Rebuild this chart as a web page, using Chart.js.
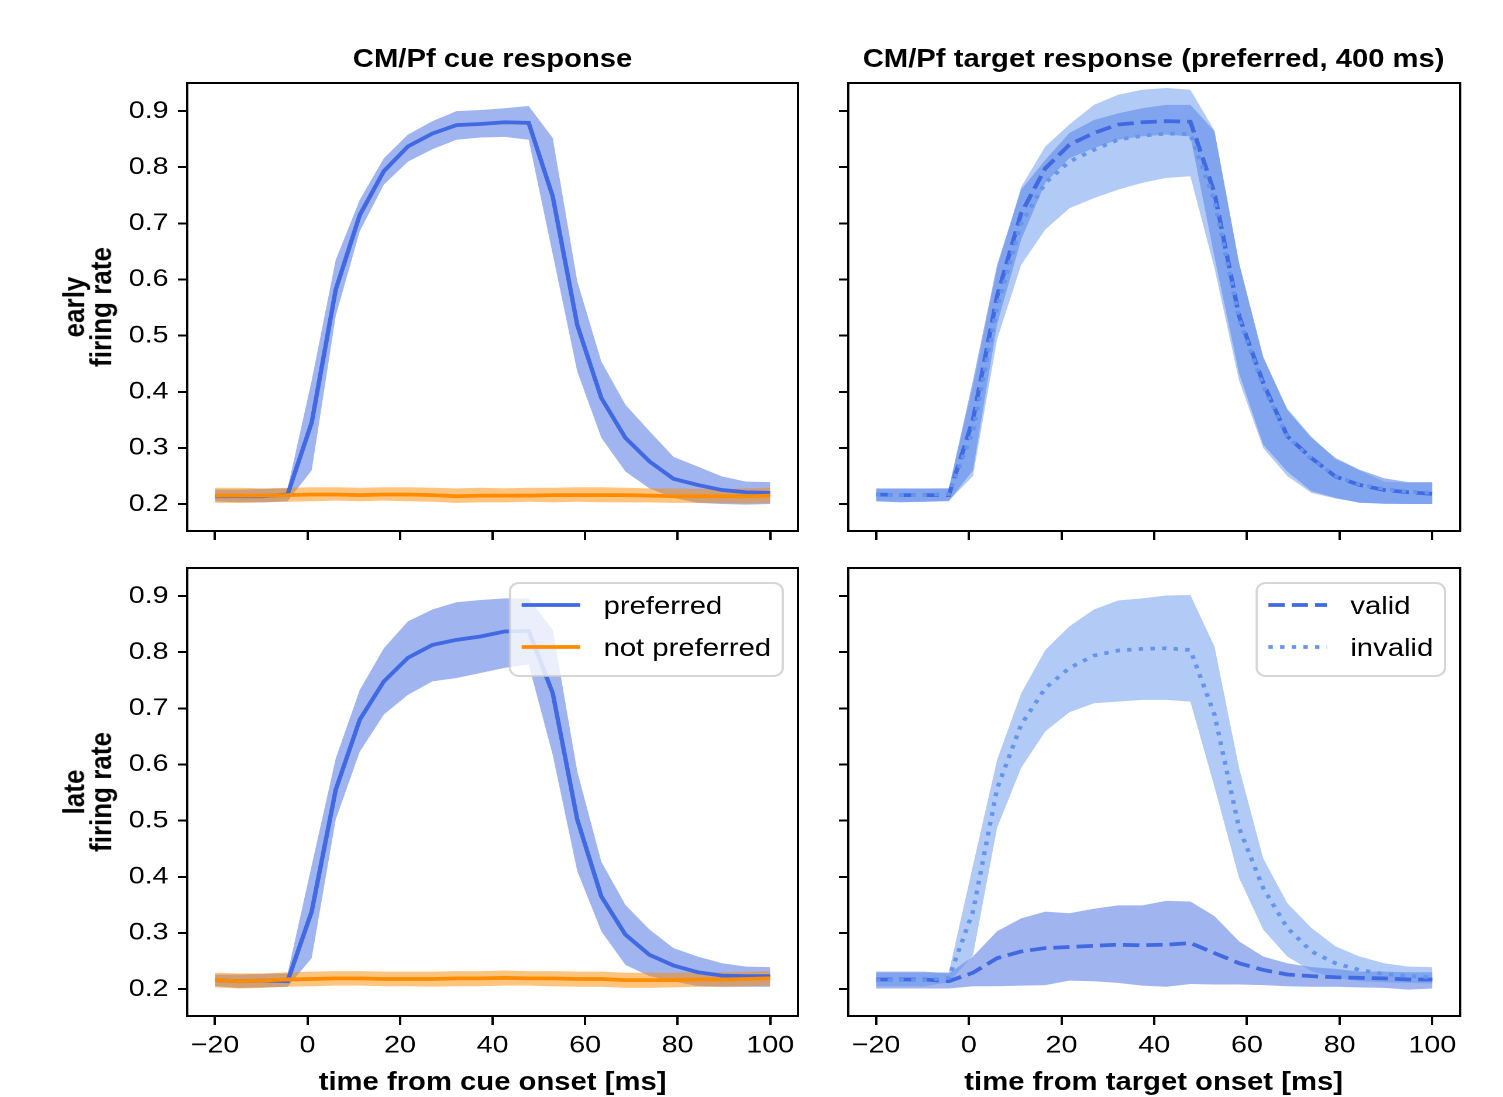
<!DOCTYPE html>
<html>
<head>
<meta charset="utf-8">
<script src="https://cdn.jsdelivr.net/npm/chart.js@4.4.1/dist/chart.umd.min.js"></script>
<style>
  html, body { margin: 0; padding: 0; background: #fff; overflow: hidden; }
  #fig { position: absolute; left: 0; top: 0; width: 1285px; height: 1097px;
         transform: scaleX(1.17); transform-origin: 0 0;
         font-family: "Liberation Sans", Arial, sans-serif; color: #000; }
  #fig canvas { position: absolute; }
  .lbl { position: absolute; font-size: 25px; line-height: 25px; font-weight: bold;
         white-space: nowrap; transform: translateX(-50%); }
  .ylbl { position: absolute; font-size: 26px; line-height: 23px; font-weight: bold;
          text-align: center; white-space: nowrap; transform: translate(-50%, -50%) rotate(-90deg); }
</style>
</head>
<body>
<div id="fig">
  <canvas id="cueEarly"></canvas>
  <canvas id="targetEarly"></canvas>
  <canvas id="cueLate"></canvas>
  <canvas id="targetLate"></canvas>

  <div class="lbl" style="left:421px; top:46px">CM/Pf cue response</div>
  <div class="lbl" style="left:986px; top:46px">CM/Pf target response (preferred, 400 ms)</div>
  <div class="ylbl" style="left:75px; top:307px">early<br>firing rate</div>
  <div class="ylbl" style="left:75px; top:792px">late<br>firing rate</div>
  <div class="lbl" style="left:421px; top:1069px">time from cue onset [ms]</div>
  <div class="lbl" style="left:986px; top:1069px">time from target onset [ms]</div>
</div>

<script>
// time axis (ms) and ticks
const time = [-20, -14.8, -9.6, -4.3, 0.9, 6.1, 11.3, 16.5, 21.7, 27.0, 32.2, 37.4,
              42.6, 47.8, 53.0, 58.3, 63.5, 68.7, 73.9, 79.1, 84.3, 89.6, 94.8, 100]
const xTicks = [-20, 0, 20, 40, 60, 80, 100]
const yTicks = [0.2, 0.3, 0.4, 0.5, 0.6, 0.7, 0.8, 0.9]

// cue response, early
const cueEarlyPref   = [0.214, 0.214, 0.214, 0.217, 0.345, 0.582, 0.715, 0.793, 0.837, 0.860, 0.875, 0.877, 0.880, 0.879, 0.748, 0.519, 0.389, 0.318, 0.276, 0.245, 0.234, 0.225, 0.221, 0.220]
const cueEarlyPrefLo = [0.205, 0.203, 0.203, 0.205, 0.260, 0.535, 0.686, 0.769, 0.810, 0.832, 0.849, 0.853, 0.854, 0.849, 0.645, 0.436, 0.318, 0.258, 0.228, 0.211, 0.202, 0.200, 0.199, 0.200]
const cueEarlyPrefHi = [0.226, 0.226, 0.227, 0.228, 0.420, 0.635, 0.742, 0.816, 0.858, 0.882, 0.900, 0.902, 0.905, 0.909, 0.852, 0.597, 0.454, 0.377, 0.330, 0.284, 0.267, 0.249, 0.240, 0.239]
const cueEarlyNon    = [0.215, 0.215, 0.215, 0.216, 0.217, 0.217, 0.216, 0.217, 0.217, 0.216, 0.214, 0.215, 0.215, 0.215, 0.216, 0.216, 0.216, 0.216, 0.215, 0.214, 0.214, 0.214, 0.214, 0.215]
const cueEarlyNonLo  = [0.202, 0.202, 0.203, 0.204, 0.205, 0.206, 0.205, 0.206, 0.205, 0.204, 0.202, 0.203, 0.203, 0.204, 0.203, 0.204, 0.203, 0.203, 0.203, 0.202, 0.202, 0.202, 0.201, 0.202]
const cueEarlyNonHi  = [0.229, 0.229, 0.228, 0.229, 0.230, 0.230, 0.229, 0.230, 0.230, 0.229, 0.228, 0.229, 0.228, 0.229, 0.229, 0.230, 0.230, 0.229, 0.228, 0.228, 0.227, 0.227, 0.228, 0.229]

// cue response, late
const cueLatePref   = [0.216, 0.214, 0.215, 0.214, 0.338, 0.555, 0.680, 0.748, 0.790, 0.813, 0.822, 0.828, 0.837, 0.838, 0.727, 0.502, 0.365, 0.297, 0.261, 0.242, 0.230, 0.224, 0.223, 0.223]
const cueLatePrefLo = [0.205, 0.202, 0.203, 0.204, 0.255, 0.502, 0.623, 0.689, 0.724, 0.748, 0.754, 0.763, 0.772, 0.778, 0.617, 0.410, 0.303, 0.243, 0.223, 0.214, 0.205, 0.204, 0.204, 0.204]
const cueLatePrefHi = [0.226, 0.226, 0.227, 0.228, 0.420, 0.611, 0.733, 0.807, 0.855, 0.876, 0.889, 0.893, 0.896, 0.896, 0.840, 0.588, 0.427, 0.350, 0.306, 0.273, 0.258, 0.246, 0.240, 0.239]
const cueLateNon    = [0.216, 0.214, 0.215, 0.217, 0.218, 0.219, 0.219, 0.218, 0.218, 0.218, 0.219, 0.219, 0.220, 0.219, 0.219, 0.218, 0.218, 0.216, 0.216, 0.216, 0.217, 0.217, 0.218, 0.219]
const cueLateNonLo  = [0.203, 0.201, 0.202, 0.204, 0.205, 0.206, 0.206, 0.205, 0.205, 0.204, 0.205, 0.205, 0.206, 0.206, 0.205, 0.204, 0.204, 0.202, 0.202, 0.203, 0.204, 0.204, 0.205, 0.206]
const cueLateNonHi  = [0.229, 0.228, 0.228, 0.230, 0.231, 0.232, 0.232, 0.231, 0.231, 0.231, 0.232, 0.232, 0.233, 0.232, 0.232, 0.231, 0.231, 0.229, 0.229, 0.229, 0.230, 0.230, 0.231, 0.232]

// target response, early
const tgtEarlyValid     = [0.217, 0.216, 0.216, 0.216, 0.350, 0.570, 0.718, 0.798, 0.840, 0.861, 0.876, 0.880, 0.882, 0.881, 0.754, 0.535, 0.416, 0.321, 0.282, 0.249, 0.234, 0.225, 0.221, 0.218]
const tgtEarlyValidLo   = [0.205, 0.203, 0.204, 0.205, 0.260, 0.520, 0.671, 0.772, 0.816, 0.834, 0.849, 0.855, 0.858, 0.855, 0.640, 0.433, 0.306, 0.258, 0.223, 0.211, 0.202, 0.201, 0.200, 0.200]
const tgtEarlyValidHi   = [0.228, 0.228, 0.228, 0.228, 0.420, 0.626, 0.760, 0.813, 0.861, 0.884, 0.896, 0.905, 0.911, 0.911, 0.864, 0.629, 0.463, 0.368, 0.318, 0.282, 0.261, 0.246, 0.239, 0.239]
const tgtEarlyInvalid   = [0.217, 0.216, 0.216, 0.218, 0.330, 0.550, 0.700, 0.772, 0.810, 0.831, 0.849, 0.856, 0.860, 0.859, 0.740, 0.530, 0.410, 0.320, 0.280, 0.250, 0.235, 0.227, 0.222, 0.220]
const tgtEarlyInvalidLo = [0.205, 0.204, 0.204, 0.206, 0.250, 0.493, 0.626, 0.689, 0.727, 0.745, 0.760, 0.772, 0.781, 0.784, 0.620, 0.420, 0.300, 0.250, 0.220, 0.210, 0.203, 0.200, 0.200, 0.200]
const tgtEarlyInvalidHi = [0.227, 0.227, 0.227, 0.228, 0.410, 0.620, 0.765, 0.837, 0.876, 0.911, 0.929, 0.938, 0.941, 0.938, 0.865, 0.630, 0.460, 0.370, 0.320, 0.280, 0.260, 0.240, 0.238, 0.238]

// target response, late
const tgtLateValid     = [0.217, 0.217, 0.217, 0.214, 0.229, 0.255, 0.267, 0.273, 0.275, 0.277, 0.279, 0.278, 0.279, 0.282, 0.264, 0.246, 0.234, 0.226, 0.223, 0.221, 0.220, 0.219, 0.217, 0.217]
const tgtLateValidLo   = [0.201, 0.201, 0.201, 0.201, 0.205, 0.205, 0.206, 0.207, 0.215, 0.214, 0.211, 0.206, 0.204, 0.209, 0.208, 0.208, 0.207, 0.205, 0.204, 0.204, 0.203, 0.202, 0.199, 0.201]
const tgtLateValidHi   = [0.231, 0.231, 0.231, 0.228, 0.258, 0.303, 0.326, 0.338, 0.335, 0.343, 0.349, 0.349, 0.357, 0.356, 0.330, 0.285, 0.258, 0.246, 0.239, 0.236, 0.231, 0.231, 0.230, 0.230]
const tgtLateInvalid   = [0.216, 0.216, 0.216, 0.220, 0.338, 0.557, 0.671, 0.736, 0.772, 0.794, 0.803, 0.806, 0.807, 0.804, 0.689, 0.487, 0.380, 0.309, 0.267, 0.246, 0.234, 0.227, 0.223, 0.221]
const tgtLateInvalidLo = [0.205, 0.205, 0.205, 0.212, 0.260, 0.487, 0.594, 0.659, 0.693, 0.709, 0.712, 0.715, 0.715, 0.712, 0.560, 0.398, 0.306, 0.258, 0.232, 0.220, 0.214, 0.212, 0.211, 0.210]
const tgtLateInvalidHi = [0.229, 0.229, 0.229, 0.230, 0.420, 0.608, 0.727, 0.804, 0.846, 0.876, 0.892, 0.896, 0.901, 0.902, 0.810, 0.594, 0.433, 0.353, 0.309, 0.276, 0.258, 0.246, 0.240, 0.239]

const ROYAL = '#4169E1', ORANGE = '#FF8C00', CORN = '#6495ED'
const FONT = '"Liberation Sans", Arial, sans-serif'

// panel geometry (unstretched px, the whole figure is stretched by 1.17 in x)
const panelLeft = [160, 725]
const panelW = [522, 523]
const panelTop = [83, 568]
const panelH = 448
const Y_W = 100, PAD_T = 12, PAD_R = 30, X_H = 50

const pts = ys => time.map((t, i) => ({ x: t, y: ys[i] }))

const band = (lo, hi, rgba, order) => [
    { data: pts(lo), borderColor: 'rgba(0,0,0,0)', borderWidth: 0, pointRadius: 0, fill: false, order: order + 1 },
    { data: pts(hi), borderColor: 'rgba(0,0,0,0)', borderWidth: 0, pointRadius: 0, fill: '-1', backgroundColor: rgba, order: order }
]

const line = (ys, color, dash, order) => ({
    data: pts(ys), borderColor: color, borderWidth: 3.75, borderDash: dash,
    borderCapStyle: 'butt', pointRadius: 0, fill: false, tension: 0, order: order
})

const framePlugin = {
    id: 'frame',
    afterDatasetsDraw(chart) {
        const { ctx, chartArea: a } = chart
        ctx.save()
        ctx.strokeStyle = '#000'
        ctx.lineWidth = 2
        ctx.strokeRect(a.left, a.top, a.right - a.left, a.bottom - a.top)
        ctx.restore()
    }
}

const boxLegend = (items) => ({
    id: 'boxLegend',
    afterDraw(chart) {
        const { ctx, chartArea: a } = chart
        ctx.save()
        ctx.font = '25px ' + FONT
        const textW = Math.max(...items.map(it => ctx.measureText(it.label).width))
        const w = 10 + 50 + 20 + textW + 10
        const h = 93
        const x0 = a.right - 13 - w
        const y0 = a.top + 15
        ctx.beginPath()
        ctx.roundRect(x0, y0, w, h, 8)
        ctx.fillStyle = 'rgba(255,255,255,0.8)'
        ctx.fill()
        ctx.strokeStyle = 'rgba(204,204,204,0.8)'
        ctx.lineWidth = 2
        ctx.stroke()
        items.forEach((it, k) => {
            const yc = y0 + 22 + k * 42
            ctx.beginPath()
            ctx.setLineDash(it.dash)
            ctx.lineCap = 'butt'
            ctx.strokeStyle = it.color
            ctx.lineWidth = 3.75
            ctx.moveTo(x0 + 10, yc)
            ctx.lineTo(x0 + 60, yc)
            ctx.stroke()
            ctx.setLineDash([])
            ctx.fillStyle = '#000'
            ctx.textBaseline = 'middle'
            ctx.textAlign = 'left'
            ctx.fillText(it.label, x0 + 80, yc + 2)
        })
        ctx.restore()
    }
})

const makePanel = (id, col, row, datasets, legendItems) => {
    const cv = document.getElementById(id)
    const w = Y_W + panelW[col] + PAD_R
    const h = PAD_T + panelH + X_H
    cv.width = w
    cv.height = h
    cv.style.left = (panelLeft[col] - Y_W) + 'px'
    cv.style.top = (panelTop[row] - PAD_T) + 'px'

    const gridOpts = (len) => ({
        drawOnChartArea: false, drawTicks: true, tickLength: len,
        tickWidth: 2, tickColor: '#000', color: '#000', lineWidth: 2
    })

    const plugins = [framePlugin]
    if (legendItems) plugins.push(boxLegend(legendItems))

    return new Chart(cv, {
        type: 'line',
        data: { datasets: datasets },
        plugins: plugins,
        options: {
            responsive: false,
            animation: false,
            devicePixelRatio: 2,
            layout: { padding: { left: 0, top: PAD_T, right: PAD_R, bottom: 0 } },
            plugins: { legend: { display: false }, tooltip: { enabled: false } },
            scales: {
                x: {
                    type: 'linear', min: -26, max: 106,
                    afterBuildTicks: s => { s.ticks = xTicks.map(v => ({ value: v })) },
                    afterFit: s => { s.height = X_H; s.paddingLeft = 0; s.paddingRight = 0 },
                    grid: gridOpts(9),
                    border: { display: false },
                    ticks: {
                        display: row === 1, color: '#000', padding: 6,
                        maxRotation: 0, autoSkip: false,
                        font: { family: FONT, size: 24.5 },
                        callback: v => v < 0 ? '\u2212' + (-v) : String(v)
                    }
                },
                y: {
                    type: 'linear', min: 0.152, max: 0.95,
                    afterBuildTicks: s => { s.ticks = yTicks.map(v => ({ value: v })) },
                    afterFit: s => { s.width = Y_W; s.paddingTop = 0; s.paddingBottom = 0 },
                    grid: gridOpts(8),
                    border: { display: false },
                    ticks: {
                        display: col === 0, color: '#000', padding: 8,
                        autoSkip: false,
                        font: { family: FONT, size: 24.5 },
                        callback: v => Number(v).toFixed(1)
                    }
                }
            }
        }
    })
}

const BLUE_BAND = 'rgba(65,105,225,0.5)'
const ORANGE_BAND = 'rgba(255,140,0,0.5)'
const CORN_BAND = 'rgba(100,149,237,0.5)'

makePanel('cueEarly', 0, 0, [
    ...band(cueEarlyPrefLo, cueEarlyPrefHi, BLUE_BAND, 9),
    ...band(cueEarlyNonLo, cueEarlyNonHi, ORANGE_BAND, 7),
    line(cueEarlyPref, ROYAL, [], 4),
    line(cueEarlyNon, ORANGE, [], 3)
])

makePanel('cueLate', 0, 1, [
    ...band(cueLatePrefLo, cueLatePrefHi, BLUE_BAND, 9),
    ...band(cueLateNonLo, cueLateNonHi, ORANGE_BAND, 7),
    line(cueLatePref, ROYAL, [], 4),
    line(cueLateNon, ORANGE, [], 3)
], [
    { label: 'preferred', color: ROYAL, dash: [] },
    { label: 'not preferred', color: ORANGE, dash: [] }
])

makePanel('targetEarly', 1, 0, [
    ...band(tgtEarlyValidLo, tgtEarlyValidHi, BLUE_BAND, 9),
    ...band(tgtEarlyInvalidLo, tgtEarlyInvalidHi, CORN_BAND, 7),
    line(tgtEarlyValid, ROYAL, [13.9, 6], 4),
    line(tgtEarlyInvalid, CORN, [3.75, 6.2], 3)
])

makePanel('targetLate', 1, 1, [
    ...band(tgtLateValidLo, tgtLateValidHi, BLUE_BAND, 9),
    ...band(tgtLateInvalidLo, tgtLateInvalidHi, CORN_BAND, 7),
    line(tgtLateValid, ROYAL, [13.9, 6], 4),
    line(tgtLateInvalid, CORN, [3.75, 6.2], 3)
], [
    { label: 'valid', color: ROYAL, dash: [13.9, 6] },
    { label: 'invalid', color: CORN, dash: [3.75, 6.2] }
])
</script>
</body>
</html>
